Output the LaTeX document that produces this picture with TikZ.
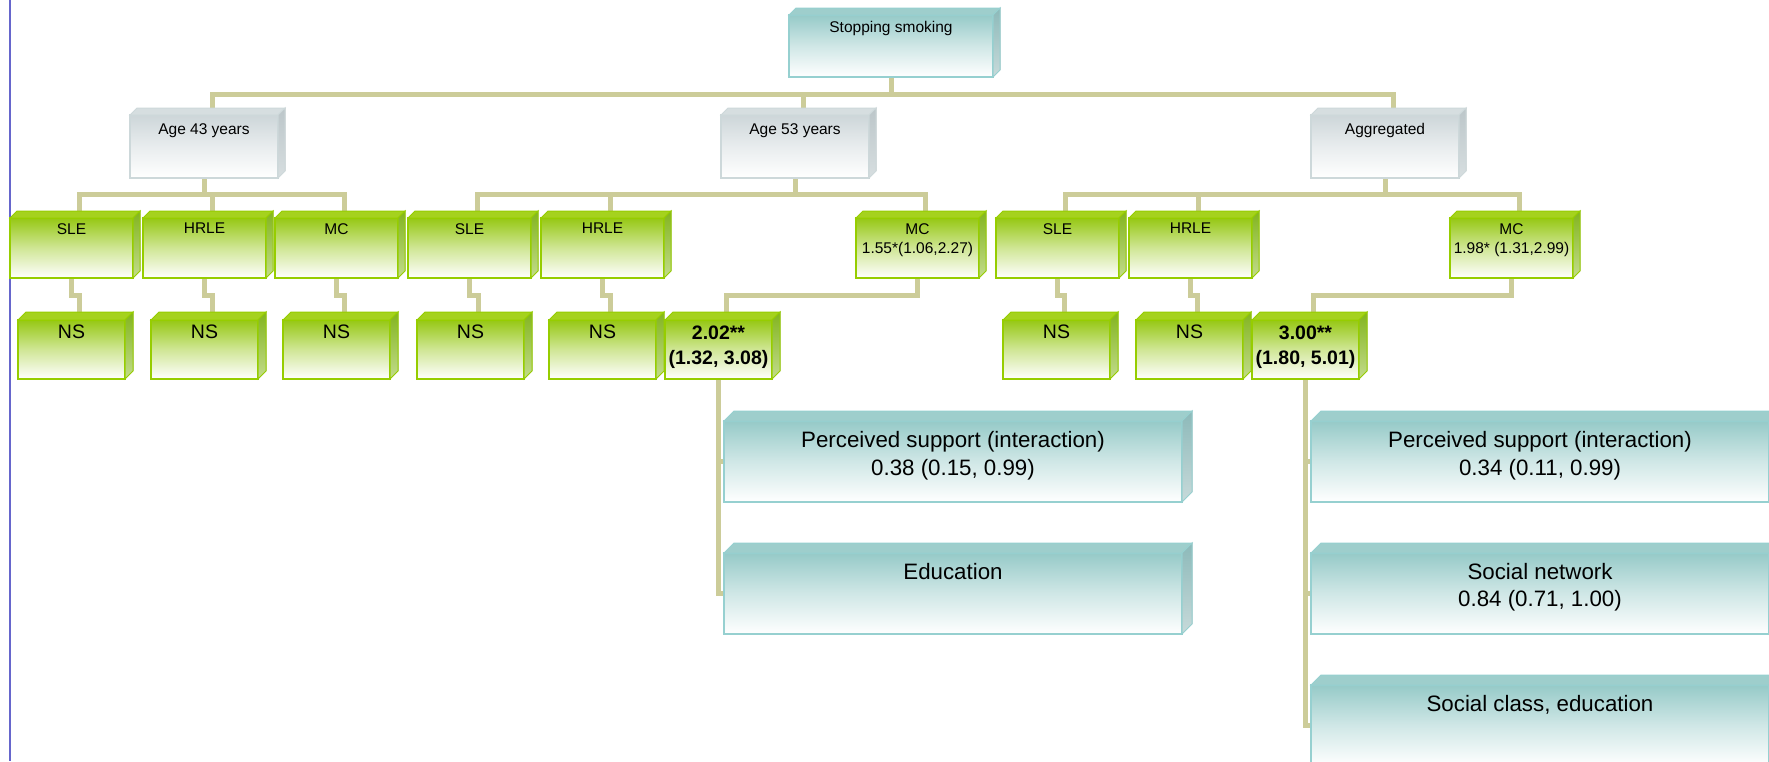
\documentclass[tikz,border=0pt]{standalone}
\usepackage{fontspec}
\setmainfont{Liberation Sans}
\pgfdeclarelayer{back}
\pgfdeclarelayer{bg}
\pgfsetlayers{back,bg,main}
\definecolor{grnTop}{RGB}{150,200,20}
\definecolor{grnFace}{RGB}{165,210,30}
\definecolor{grnSide}{RGB}{130,180,30}
\definecolor{grnSideB}{RGB}{195,220,140}
\definecolor{grnBd}{RGB}{150,205,0}
\definecolor{tealTop}{RGB}{150,202,200}
\definecolor{tealFace}{RGB}{158,206,204}
\definecolor{tealSide}{RGB}{140,185,185}
\definecolor{tealSideB}{RGB}{200,218,218}
\definecolor{tealBd}{RGB}{150,208,208}
\definecolor{greyTop}{RGB}{205,214,217}
\definecolor{greyFace}{RGB}{214,222,224}
\definecolor{greySide}{RGB}{188,198,201}
\definecolor{greySideB}{RGB}{215,222,224}
\definecolor{greyBd}{RGB}{205,216,218}
\definecolor{connC}{RGB}{204,204,153}
\definecolor{frameC}{RGB}{102,102,204}
\tikzset{
  frontface/.style={rectangle, draw=#1Bd, line width=1.5pt, inner sep=0pt, outer sep=0pt,
     top color=#1Top, bottom color=white, middle color=#1Top!45!white},
  topface/.style={draw=#1Bd, line width=1pt, fill=#1Face},
  sideface/.style={draw=#1Bd, line width=1pt, top color=#1Side, bottom color=#1SideB},
  conn/.style={draw=connC, line width=5pt},
  txtS/.style={inner sep=0pt, align=center, font=\fontsize{15.5}{19}\selectfont},
  txtNS/.style={inner sep=0pt, align=center, font=\fontsize{19.5}{24}\selectfont},
  txtB/.style={inner sep=0pt, align=center, font=\fontsize{19.5}{24.5}\selectfont\bfseries},
  txtT/.style={inner sep=0pt, align=center, font=\fontsize{22.3}{27.5}\selectfont},
}
% #1 name #2 x #3 y #4 w #5 h #6 depth #7 scheme
\newcommand\cube[7]{%
  \node[frontface=#7, minimum width=#4pt, minimum height=#5pt, anchor=north west] (#1) at (#2,#3) {};
  \filldraw[topface=#7] (#1.north west) -- ([xshift=#6pt,yshift=#6pt]#1.north west)
     -- ([xshift=#6pt,yshift=#6pt]#1.north east) -- (#1.north east) -- cycle;
  \filldraw[sideface=#7] (#1.north east) -- ([xshift=#6pt,yshift=#6pt]#1.north east)
     -- ([xshift=#6pt,yshift=#6pt]#1.south east) -- (#1.south east) -- cycle;
}
% #1 name #2 style #3 offset #4 text
\newcommand\lab[4]{%
  \node[#2, anchor=north] (#1t) at ([yshift=-#3pt]#1.north) {#4};
}
\begin{document}
\begin{tikzpicture}[x=1pt,y=-1pt]
\begin{pgfonlayer}{back}
\fill[white] (0,0) rectangle (1769,761);
\end{pgfonlayer}
\useasboundingbox (0,0) rectangle (1769,761);
\begin{pgfonlayer}{bg}
\draw[frameC, line width=2pt] (10,0) -- (10,761);
\end{pgfonlayer}

% level 0
\cube{ss}{789}{15}{204}{62}{7}{teal}
\lab{ss}{txtS}{6}{Stopping smoking}

% level 1
\cube{a43}{130}{115}{148}{63}{7}{grey}
\lab{a43}{txtS}{8}{Age 43 years}
\cube{a53}{721}{115}{148}{63}{7}{grey}
\lab{a53}{txtS}{8}{Age 53 years}
\cube{agg}{1311}{115}{148}{63}{7}{grey}
\lab{agg}{txtS}{8}{Aggregated}

% level 2
\cube{sle1}{10}{218}{123}{60}{7}{grn}
\lab{sle1}{txtS}{5}{SLE}
\cube{hrle1}{143}{218}{123}{60}{7}{grn}
\lab{hrle1}{txtS}{5}{HRLE}
\cube{mc1}{275}{218}{123}{60}{7}{grn}
\lab{mc1}{txtS}{5}{MC}
\cube{sle2}{408}{218}{123}{60}{7}{grn}
\lab{sle2}{txtS}{5}{SLE}
\cube{hrle2}{541}{218}{123}{60}{7}{grn}
\lab{hrle2}{txtS}{5}{HRLE}
\cube{mc2}{856}{218}{123}{60}{7}{grn}
\lab{mc2}{txtS}{5}{MC\\1.55*(1.06,2.27)}
\cube{sle3}{996}{218}{123}{60}{7}{grn}
\lab{sle3}{txtS}{5}{SLE}
\cube{hrle3}{1129}{218}{123}{60}{7}{grn}
\lab{hrle3}{txtS}{5}{HRLE}
\cube{mc3}{1450}{218}{123}{60}{7}{grn}
\lab{mc3}{txtS}{5}{MC\\1.98* (1.31,2.99)}

% level 3
\cube{ns1}{18}{320}{107}{59}{8}{grn}
\lab{ns1}{txtNS}{5}{NS}
\cube{ns2}{151}{320}{107}{59}{8}{grn}
\lab{ns2}{txtNS}{5}{NS}
\cube{ns3}{283}{320}{107}{59}{8}{grn}
\lab{ns3}{txtNS}{5}{NS}
\cube{ns4}{417}{320}{107}{59}{8}{grn}
\lab{ns4}{txtNS}{5}{NS}
\cube{ns5}{549}{320}{107}{59}{8}{grn}
\lab{ns5}{txtNS}{5}{NS}
\cube{r1}{665}{320}{107}{59}{8}{grn}
\lab{r1}{txtB}{6}{2.02**\\(1.32, 3.08)}
\cube{ns6}{1003}{320}{107}{59}{8}{grn}
\lab{ns6}{txtNS}{5}{NS}
\cube{ns7}{1136}{320}{107}{59}{8}{grn}
\lab{ns7}{txtNS}{5}{NS}
\cube{r2}{1252}{320}{107}{59}{8}{grn}
\lab{r2}{txtB}{6}{3.00**\\(1.80, 5.01)}

% level 4
\cube{t1}{724}{421}{458}{81}{10}{teal}
\lab{t1}{txtT}{10.5}{Perceived support (interaction)\\0.38 (0.15, 0.99)}
\cube{t2}{724}{553}{458}{81}{10}{teal}
\lab{t2}{txtT}{10}{Education}
\cube{t3}{1311}{421}{458}{81}{10}{teal}
\lab{t3}{txtT}{10.5}{Perceived support (interaction)\\0.34 (0.11, 0.99)}
\cube{t4}{1311}{553}{458}{81}{10}{teal}
\lab{t4}{txtT}{10}{Social network\\0.84 (0.71, 1.00)}
\cube{t5}{1311}{685}{458}{81}{10}{teal}
\lab{t5}{txtT}{10}{Social class, education}

% connectors
\begin{pgfonlayer}{bg}
\foreach \c in {a43,a53,agg}
  \draw[conn] (ss.south) -- ++(0,17) -| ([xshift=8pt]\c.north);
\foreach \p/\c in {a43/sle1,a43/hrle1,a43/mc1,a53/sle2,a53/hrle2,a53/mc2,agg/sle3,agg/hrle3,agg/mc3}
  \draw[conn] (\p.south) -- ++(0,16) -| ([xshift=8pt]\c.north);
\foreach \p/\c in {sle1/ns1,hrle1/ns2,mc1/ns3,sle2/ns4,hrle2/ns5,mc2/r1,sle3/ns6,hrle3/ns7,mc3/r2}
  \draw[conn] (\p.south) -- ++(0,17) -| ([xshift=8pt]\c.north);
\foreach \p/\c in {r1/t1,r1/t2,r2/t3,r2/t4,r2/t5}
  \draw[conn] (\p.south) |- (\c.west);
\end{pgfonlayer}
\end{tikzpicture}
\end{document}
